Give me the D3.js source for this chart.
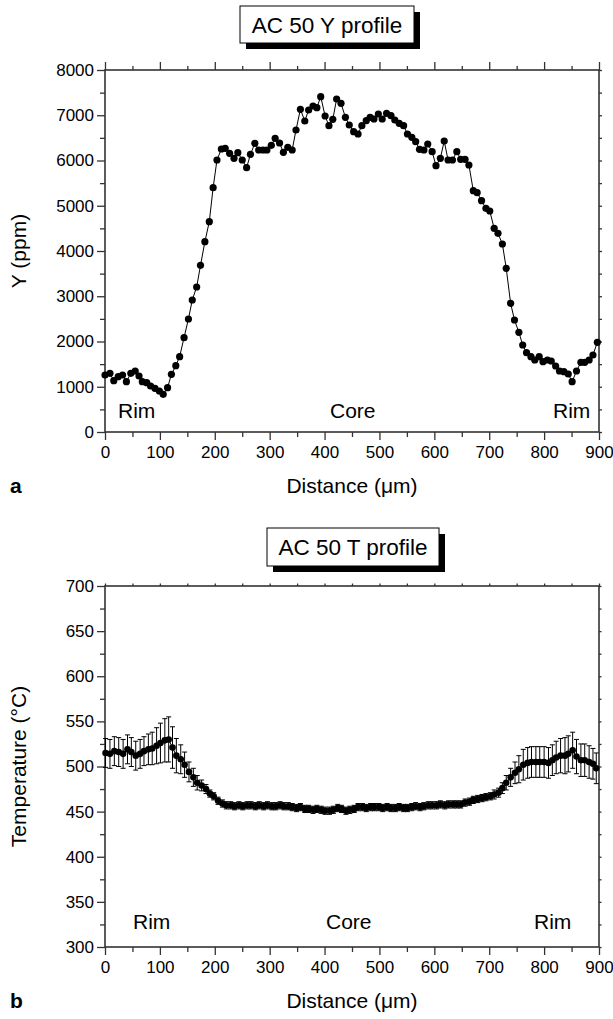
<!DOCTYPE html>
<html><head><meta charset="utf-8">
<script src="https://cdn.jsdelivr.net/npm/d3@7"></script>
<style>
body{margin:0;background:#fff;}
svg{display:block;font-family:"Liberation Sans",Arial,Helvetica,sans-serif;}
</style></head>
<body><svg id="c" width="613" height="1019"></svg>
<script>
// ---- data: panel a (Y profile) ----
const yDist = [0,9,16,24,32,39,47,55,62,68,76,83,91,99,106,114,121,129,136,144,152,159,167,174,182,190,197,204,212,219,227,235,242,250,258,265,273,280,288,295,303,310,318,325,333,341,348,356,364,371,379,386,393,401,408,415,422,430,438,445,453,461,468,476,483,490,498,505,513,521,528,536,544,551,559,566,573,581,588,596,603,611,618,625,633,641,648,656,663,671,678,686,694,701,709,716,724,731,739,746,754,761,768,776,783,791,798,806,813,821,828,836,844,851,859,867,874,882,889,897];
const yPpm = [1260,1296,1134,1223,1260,1112,1296,1348,1238,1112,1090,1017,965,906,832,980,1274,1466,1665,2085,2497,2917,3204,3683,4206,4648,5400,6011,6254,6269,6158,6048,6173,6011,5842,6136,6379,6232,6232,6232,6335,6490,6387,6180,6291,6232,6674,7131,6873,7116,7204,7168,7411,6983,6770,6910,7359,7263,6954,6784,6637,6586,6770,6880,6954,6917,7028,6917,7043,6991,6895,6821,6770,6586,6512,6416,6247,6232,6365,6195,5886,6048,6431,6011,6011,6195,6026,6026,5901,5333,5289,5112,4943,4884,4501,4390,4155,3617,2843,2475,2203,1923,1753,1665,1591,1665,1554,1591,1569,1459,1348,1333,1282,1112,1348,1540,1540,1591,1702,1982];
// ---- data: panel b (T profile) ----
const tDist = [1,9,17,25,33,41,48,56,64,71,79,86,94,101,109,116,123,130,138,145,153,161,168,176,184,191,198,206,214,221,229,236,244,251,259,266,274,281,289,296,304,311,319,326,334,341,349,356,364,371,379,386,394,401,409,416,424,431,439,446,454,461,469,476,484,491,499,506,514,521,529,536,544,551,559,566,574,581,589,596,604,611,619,626,634,641,648,656,664,671,679,687,694,702,709,717,724,731,739,747,754,762,770,777,785,792,800,808,815,822,830,838,844,852,859,867,874,882,889,895];
const tVal = [515,514,517,516,514,519,516,512,514,517,519,520,523,526,529,530,521,512,508,502,494,488,482,479,475,470,467,462,459,457,457,456,457,456,457,457,456,457,456,457,456,456,457,456,456,455,454,455,453,453,452,453,452,451,451,452,454,453,451,452,453,455,455,454,455,455,455,454,455,454,454,455,454,454,455,456,455,456,457,457,457,458,457,458,458,458,458,460,461,463,464,465,466,467,469,471,476,482,488,493,497,502,504,505,505,505,505,504,507,510,512,512,514,518,511,507,507,505,503,498];
const tErr = [16,16,16,16,16,16,16,16,16,16,17,18,20,22,24,25,23,19,16,14,11,10,8,6,5,4,4,4,4,4,4,4,4,4,4,4,4,4,4,4,4,4,4,4,4,4,4,4,4,4,4,4,4,4,4,4,4,4,4,4,4,4,4,4,4,4,4,4,4,4,4,4,4,4,4,4,4,4,4,4,4,4,4,4,4,4,4,4,4,4,4,4,4,4,5,5,6,8,10,12,15,17,17,17,17,17,17,17,17,18,19,20,20,20,19,18,18,18,17,17];
// ---- ticks / labels ----
const xMajor = [0,100,200,300,400,500,600,700,800,900];
const xMinor = [50,150,250,350,450,550,650,750,850];
const yaMajor = [0,1000,2000,3000,4000,5000,6000,7000,8000];
const yaMinor = [500,1500,2500,3500,4500,5500,6500,7500];
const ybMajor = [300,350,400,450,500,550,600,650,700];
const ybMinor = [325,375,425,475,525,575,625,675];
const regionLabels = ["Rim","Core","Rim"];

const svg = d3.select("#c");
const AX = "#333";
const L = 105, R = 599;
const x = d3.scaleLinear().domain([0,900]).range([L,R]);
const fmt = d3.format("d");

function panel(o){
  const g = svg.append("g");
  const y = o.y;
  const [yb, yt] = y.range();
  const mk = (axis, tr, vals, size, labels) => {
    const a = axis.tickValues(vals).tickSizeInner(size).tickSizeOuter(0).tickPadding(5);
    a.tickFormat(labels ? fmt : "");
    const gg = g.append("g").attr("transform", tr).call(a);
    gg.select(".domain").remove();
    gg.selectAll(".tick line").attr("stroke", AX).attr("stroke-width", 1.3);
    gg.selectAll("text").attr("fill","#000").style("font-size","17px").style("font-family","Liberation Sans, Arial, sans-serif");
    return gg;
  };
  const bx = mk(d3.axisBottom(x), `translate(0,${yb})`, xMajor, 8, true);
  bx.selectAll("text").attr("y", 14).attr("dy","0.71em");
  mk(d3.axisBottom(x), `translate(0,${yb})`, xMinor, 5, false);
  const ly = mk(d3.axisLeft(y), `translate(${L},0)`, o.yMajor, 8, true);
  ly.selectAll("text").attr("x", -11);
  mk(d3.axisLeft(y), `translate(${L},0)`, o.yMinor, 5, false);
  mk(d3.axisTop(x), `translate(0,${yt})`, xMajor, o.topMaj, false);
  mk(d3.axisTop(x), `translate(0,${yt})`, xMinor, o.topMin, false);
  mk(d3.axisRight(y), `translate(${R},0)`, o.yMajor, o.rightT, false);
  mk(d3.axisRight(y), `translate(${R},0)`, o.yMinor, o.rightT, false);
  g.append("rect").attr("x",L).attr("y",yt).attr("width",R-L).attr("height",yb-yt)
    .attr("fill","none").attr("stroke",AX).attr("stroke-width",1.6);
  const t = o.title;
  g.append("rect").attr("x",t.x+6).attr("y",t.y+6).attr("width",t.w).attr("height",t.h).attr("fill","#000");
  g.append("rect").attr("x",t.x).attr("y",t.y).attr("width",t.w).attr("height",t.h).attr("fill","#fff").attr("stroke","#000").attr("stroke-width",1);
  g.append("text").attr("x",t.x+t.w/2).attr("y",t.y+t.h/2+8).attr("text-anchor","middle")
    .style("font-size","22.5px").text(t.text);
  o.regions.forEach((r,i)=>{
    g.append("text").attr("x",r[0]).attr("y",r[1]).style("font-size","21px").text(regionLabels[i]);
  });
  g.append("text").attr("x",(L+R)/2).attr("y",yb+61).attr("text-anchor","middle")
    .style("font-size","21px").text("Distance (\u03bcm)");
  g.append("text").attr("x",10).attr("y",yb+61).style("font-size","21px").style("font-weight","bold").text(o.letter);
  g.append("text").attr("transform",`translate(26,${(yb+yt)/2}) rotate(-90)`).attr("text-anchor","middle")
    .style("font-size","21px").text(o.ylabel);
  return g;
}

// ---- panel a ----
const ya = d3.scaleLinear().domain([0,8000]).range([432,70]);
const ga = panel({y:ya, yMajor:yaMajor, yMinor:yaMinor, topMaj:8, topMin:4, rightT:3,
  title:{x:240,y:6,w:174,h:37,text:"AC 50 Y profile"},
  regions:[[118,418],[330,418],[553,418]], letter:"a", ylabel:"Y (ppm)"});
const lineA = d3.line().x((d,i)=>x(yDist[i])).y(d=>ya(d));
ga.append("path").attr("d", lineA(yPpm)).attr("fill","none").attr("stroke","#000").attr("stroke-width",1);
ga.selectAll("circle.a").data(yPpm).join("circle").attr("class","a")
  .attr("cx",(d,i)=>x(yDist[i])).attr("cy",d=>ya(d)).attr("r",3.6).attr("fill","#000");

// ---- panel b ----
const yb = d3.scaleLinear().domain([300,700]).range([947,586]);
const gb = panel({y:yb, yMajor:ybMajor, yMinor:ybMinor, topMaj:2.5, topMin:2.5, rightT:2.5,
  title:{x:267,y:528,w:172,h:38,text:"AC 50 T profile"},
  regions:[[133,929],[326,929],[534,929]], letter:"b", ylabel:"Temperature (\u00b0C)"});
const eb = gb.append("g").attr("stroke","#000").attr("stroke-width",1);
tVal.forEach((v,i)=>{
  const cx = x(tDist[i]), y1 = yb(v+tErr[i]), y2 = yb(v-tErr[i]);
  eb.append("line").attr("x1",cx).attr("x2",cx).attr("y1",y1).attr("y2",y2);
  eb.append("line").attr("x1",cx-2.5).attr("x2",cx+2.5).attr("y1",y1).attr("y2",y1);
  eb.append("line").attr("x1",cx-2.5).attr("x2",cx+2.5).attr("y1",y2).attr("y2",y2);
});
const lineB = d3.line().x((d,i)=>x(tDist[i])).y(d=>yb(d));
gb.append("path").attr("d", lineB(tVal)).attr("fill","none").attr("stroke","#000").attr("stroke-width",1);
gb.selectAll("circle.b").data(tVal).join("circle").attr("class","b")
  .attr("cx",(d,i)=>x(tDist[i])).attr("cy",d=>yb(d)).attr("r",3.3).attr("fill","#000");
</script></body></html>
